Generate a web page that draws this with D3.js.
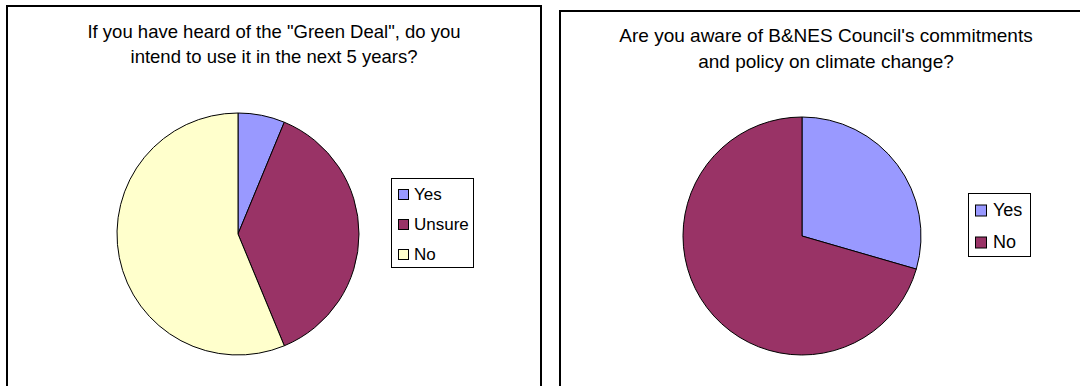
<!DOCTYPE html>
<html>
<head>
<meta charset="utf-8">
<script src="https://cdn.jsdelivr.net/npm/d3@7"></script>
<style>
  html, body { margin: 0; padding: 0; background: #fff; }
  svg { display: block; font-family: "Liberation Sans", Arial, sans-serif; }
</style>
</head>
<body>
<svg id="chart" width="1080" height="386"></svg>
<script>
// Survey responses
const greenDealTitle = ['If you have heard of the "Green Deal", do you', 'intend to use it in the next 5 years?'];
const greenDealCategories = ["Yes", "Unsure", "No"];
const greenDealValues = [2, 12, 18];

const awarenessTitle = ["Are you aware of B&NES Council's commitments", "and policy on climate change?"];
const awarenessCategories = ["Yes", "No"];
const awarenessValues = [23, 55];

const palette = { "Yes": "#9999FF", "Unsure": "#993366", "No": "#FFFFCC" };
const awarenessPalette = { "Yes": "#9999FF", "No": "#993366" };

const svg = d3.select("#chart");

function drawPanel(cfg) {
  const g = svg.append("g");

  // panel frame (bottom edge runs past the window)
  g.append("rect")
    .attr("x", cfg.frame.x).attr("y", cfg.frame.y)
    .attr("width", cfg.frame.w).attr("height", cfg.frame.h)
    .attr("fill", "#fff").attr("stroke", "#000").attr("stroke-width", 2);

  // title
  const t = g.append("text")
    .attr("text-anchor", "middle")
    .attr("font-size", cfg.titleSize)
    .attr("fill", "#000");
  cfg.title.forEach((line, i) => {
    t.append("tspan").attr("x", cfg.titleX).attr("y", cfg.titleY + i * cfg.titleGap).text(line);
  });

  // pie
  const data = cfg.categories.map((c, i) => ({ cat: c, value: cfg.values[i] }));
  const pie = d3.pie().sort(null).value(d => d.value);
  const arc = d3.arc().innerRadius(0).outerRadius(cfg.r);
  const color = d3.scaleOrdinal().domain(cfg.categories).range(cfg.categories.map(c => cfg.colors[c]));

  g.append("g")
    .attr("transform", `translate(${cfg.cx},${cfg.cy})`)
    .selectAll("path")
    .data(pie(data))
    .join("path")
    .attr("d", arc)
    .attr("fill", d => color(d.data.cat))
    .attr("stroke", "#000")
    .attr("stroke-width", 1)
    .attr("stroke-linejoin", "round");

  // legend
  const lg = cfg.legend;
  g.append("rect")
    .attr("x", lg.x + 0.5).attr("y", lg.y + 0.5)
    .attr("width", lg.w).attr("height", lg.h)
    .attr("fill", "#fff").attr("stroke", "#000").attr("stroke-width", 1);

  const items = g.selectAll("g.item")
    .data(cfg.categories)
    .join("g")
    .attr("class", "item")
    .attr("transform", (d, i) => `translate(${lg.x},${lg.y + lg.first + i * lg.step})`);

  items.append("rect")
    .attr("x", lg.swX + 0.5).attr("y", -lg.sw / 2 + 0.5)
    .attr("width", lg.sw).attr("height", lg.sw)
    .attr("fill", d => color(d))
    .attr("stroke", "#000").attr("stroke-width", 1);

  items.append("text")
    .attr("x", lg.textX)
    .attr("y", lg.fontSize * 0.36)
    .attr("font-size", lg.fontSize)
    .attr("fill", "#000")
    .text(d => d);
}

drawPanel({
  frame: { x: 7, y: 6, w: 534, h: 420 },
  title: greenDealTitle, titleX: 274, titleY: 38, titleGap: 25, titleSize: 18.5,
  categories: greenDealCategories, values: greenDealValues, colors: palette,
  cx: 238, cy: 234, r: 121,
  legend: { x: 391, y: 178, w: 82, h: 89, first: 16, step: 30, swX: 7, sw: 10, textX: 23, fontSize: 17 }
});

drawPanel({
  frame: { x: 560, y: 11, w: 532, h: 420 },
  title: awarenessTitle, titleX: 826, titleY: 42, titleGap: 26, titleSize: 19,
  categories: awarenessCategories, values: awarenessValues, colors: awarenessPalette,
  cx: 802, cy: 236, r: 119,
  legend: { x: 968, y: 193, w: 62, h: 63, first: 17, step: 32, swX: 7, sw: 11, textX: 25, fontSize: 18 }
});
</script>
</body>
</html>
